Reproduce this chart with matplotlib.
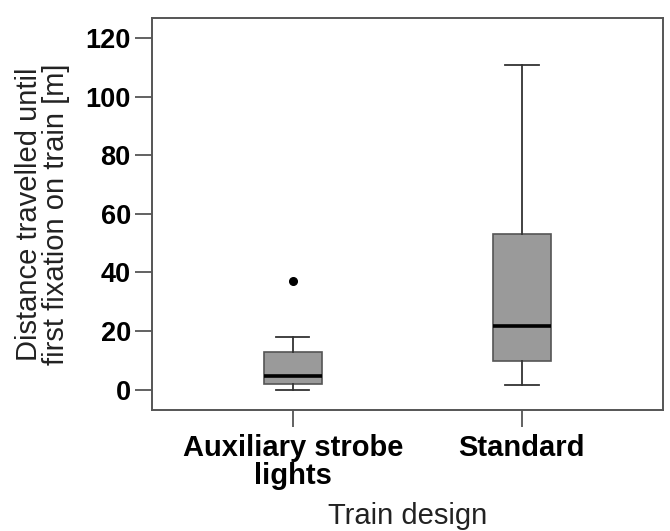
import matplotlib
matplotlib.use("Agg")
import matplotlib.pyplot as plt
from matplotlib import font_manager

categories = ["Auxiliary strobe\nlights", "Standard"]
whisker_low = [0.0, 1.5]
q1 = [2.1, 9.9]
medians = [4.8, 21.6]
q3 = [13.0, 53.2]
whisker_high = [18.0, 110.8]
outliers = [[37.0], []]
yticks = [0, 20, 40, 60, 80, 100, 120]

names = {f.name for f in font_manager.fontManager.ttflist}
tick_family = ["Liberation Sans Narrow"] if "Liberation Sans Narrow" in names else ["Liberation Sans"]

fig = plt.figure(figsize=(6.7, 5.31), dpi=100)
ax = fig.add_axes([0.2264, 0.228, 0.7632, 0.7385])

stats = []
for i in range(len(categories)):
    stats.append(dict(med=medians[i], q1=q1[i], q3=q3[i], whislo=whisker_low[i],
                      whishi=whisker_high[i], fliers=outliers[i], label=categories[i]))

ax.bxp(stats, positions=[1, 2], widths=0.255, patch_artist=True,
       boxprops=dict(facecolor="#9a9a9a", edgecolor="#555555", linewidth=1.2),
       medianprops=dict(color="black", linewidth=2.6),
       whiskerprops=dict(color="#333333", linewidth=1.3),
       capprops=dict(color="#333333", linewidth=1.3),
       capwidths=0.145,
       flierprops=dict(marker="o", markerfacecolor="black", markeredgecolor="black", markersize=5.5))

ax.set_xlim(0.384, 2.616)
ax.set_ylim(-6.9, 126.9)
ax.set_yticks(yticks)
ax.set_yticklabels([str(v) for v in yticks], family=tick_family, fontweight="bold", fontsize=19.5)
ax.set_xticks([1, 2])
ax.set_xticklabels(categories, family=tick_family, fontweight="bold", fontsize=21, linespacing=1.0)
ax.tick_params(axis="y", length=12, width=1.3, color="#555555", pad=3)
ax.tick_params(axis="x", length=12, width=1.3, color="#555555", pad=5)
for s in ax.spines.values():
    s.set_color("#555555")
    s.set_linewidth(1.4)

ax.set_ylabel("Distance travelled until\nfirst fixation on train [m]", family="Liberation Sans",
              fontsize=21, color="#222222", linespacing=0.95, labelpad=11)
ax.set_xlabel("Train design", family="Liberation Sans", fontsize=21, color="#222222", labelpad=9)

fig.savefig("out.png", dpi=100)
